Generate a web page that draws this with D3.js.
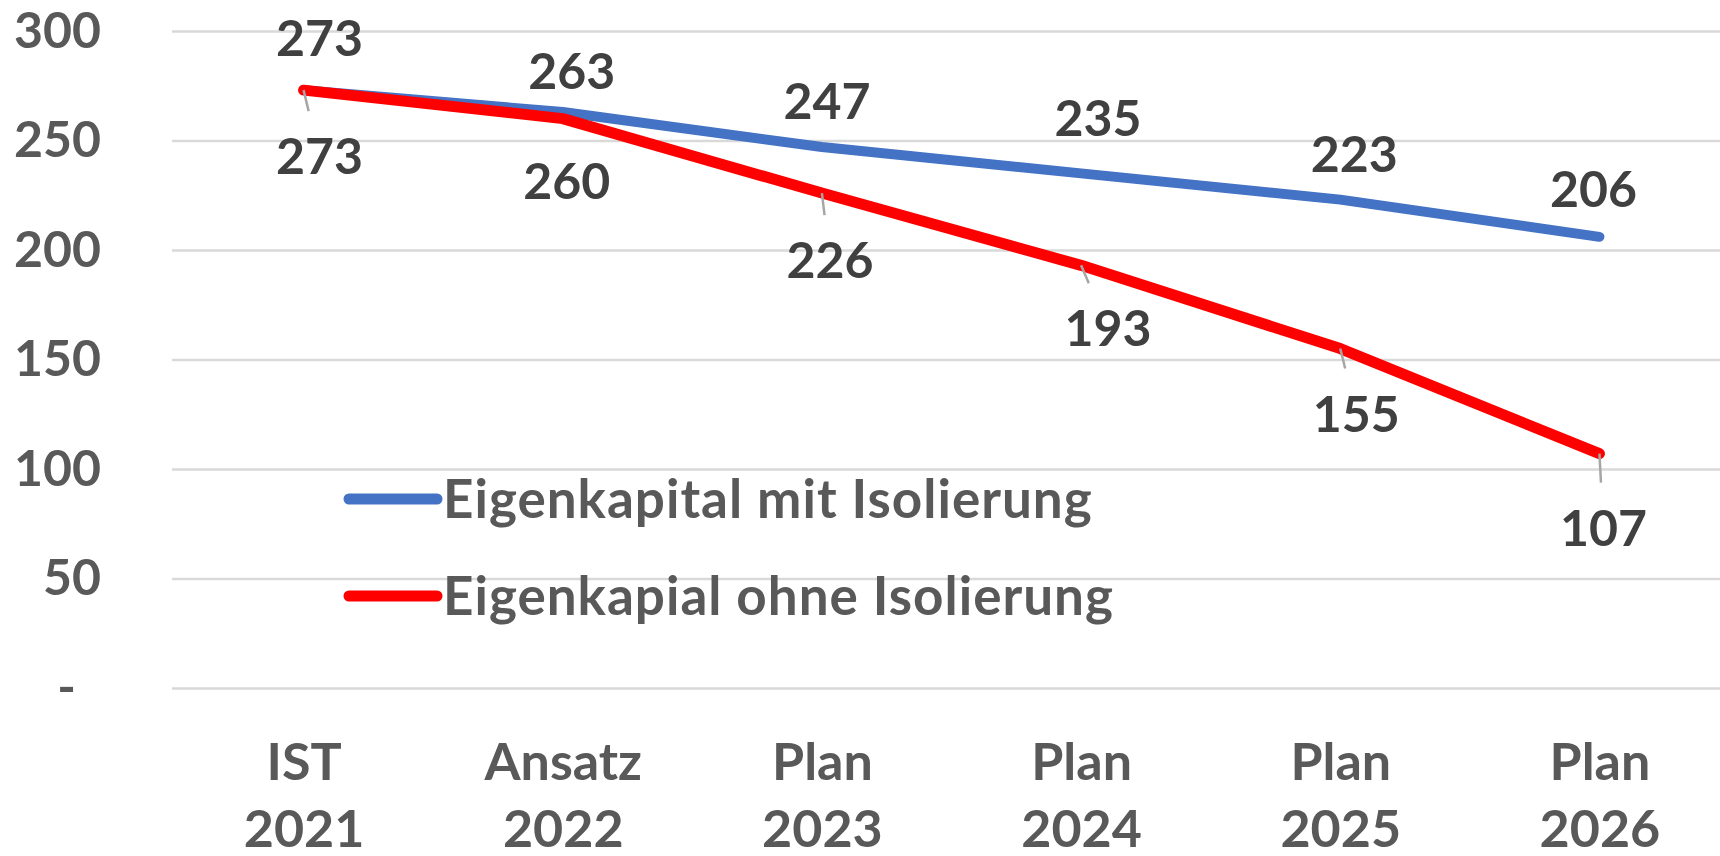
<!DOCTYPE html>
<html>
<head>
<meta charset="utf-8">
<script src="https://cdn.jsdelivr.net/npm/d3@7"></script>
<style>
  html, body { margin: 0; padding: 0; background: #fff; }
  svg { display: block; font-family: Lato, "Open Sans", sans-serif; font-weight: 700; }
</style>
</head>
<body>
<svg id="chart" width="1720" height="856"></svg>
<script>
// ---- data ----
const categories = ["IST\n2021", "Ansatz\n2022", "Plan\n2023", "Plan\n2024", "Plan\n2025", "Plan\n2026"];
const seriesNames = ["Eigenkapital mit Isolierung", "Eigenkapial ohne Isolierung"];
const mitIsolierung = [273, 263, 247, 235, 223, 206];
const ohneIsolierung = [273, 260, 226, 193, 155, 107];
const yTicks = [0, 50, 100, 150, 200, 250, 300];

// ---- label placement (manual Excel label offsets, px) ----
const blueLabelDx = [16, 9, 5, 17, 14, -6];
const blueLabelDy = [-52, -41, -46, -55, -46, -48];
const redLabelDx = [16, 4, 8, 27, 16, 4];
const redLabelDy = [66, 62, 67, 63, 65, 74];
const redLeader = [true, false, true, true, true, true];

const colors = { blue: "#4472C4", red: "#FF0000", grid: "#d9d9d9", axis: "#595959", label: "#404040", leader: "#a6a6a6" };
const fontSize = 50;

const svg = d3.select("#chart");
const W = 1720, H = 856;
const plotLeft = 172, plotTop = 31, plotBottom = 688;

const x = d3.scalePoint().domain(categories).range([174, 1729]).padding(0.5);
const y = d3.scaleLinear().domain([0, 300]).range([plotBottom, plotTop]);

// y axis + gridlines
const yAxis = d3.axisLeft(y).tickValues(yTicks)
  .tickSize(-(W - plotLeft)).tickPadding(71)
  .tickFormat(d => d === 0 ? "-" : d);
const gy = svg.append("g").attr("transform", `translate(${plotLeft},0)`).call(yAxis);
gy.select(".domain").remove();
gy.selectAll(".tick line").attr("stroke", colors.grid).attr("stroke-width", 2.5);
gy.selectAll(".tick text").attr("fill", colors.axis).attr("font-size", fontSize)
  .attr("font-family", "Lato, sans-serif").attr("font-weight", 700);
gy.selectAll(".tick").filter(d => d === 0).select("text").attr("x", -96);

// x axis
const xAxis = d3.axisBottom(x).tickSize(0).tickFormat(() => "");
const gx = svg.append("g").attr("transform", `translate(0,${plotBottom})`).call(xAxis);
gx.select(".domain").remove();
gx.selectAll(".tick text").each(function(d) {
  const parts = d.split("\n");
  const t = d3.select(this).attr("fill", colors.axis).attr("font-size", fontSize + 2)
    .attr("font-family", "Lato, sans-serif").attr("font-weight", 700).attr("y", 0).attr("dy", null);
  parts.forEach((p, i) => {
    t.append("tspan").attr("x", 0).attr("y", 92 + i * 67).text(p);
  });
});

// lines
const line = d3.line().x((d, i) => x(categories[i])).y(d => y(d));
svg.append("path").datum(mitIsolierung).attr("d", line)
  .attr("fill", "none").attr("stroke", colors.blue).attr("stroke-width", 10)
  .attr("stroke-linecap", "round").attr("stroke-linejoin", "round");
svg.append("path").datum(ohneIsolierung).attr("d", line)
  .attr("fill", "none").attr("stroke", colors.red).attr("stroke-width", 11)
  .attr("stroke-linecap", "round").attr("stroke-linejoin", "round");

// leader lines for red labels
svg.append("g").selectAll("line").data(ohneIsolierung.map((v, i) => ({ v, i })).filter(d => redLeader[d.i]))
  .join("line")
  .attr("x1", d => x(categories[d.i]))
  .attr("y1", d => y(d.v))
  .attr("x2", d => {
    const px = x(categories[d.i]), py = y(d.v);
    const lx = px + redLabelDx[d.i], ly = py + redLabelDy[d.i];
    const ty = ly - 45;
    return px + (lx - px) * (ty - py) / (ly - py);
  })
  .attr("y2", d => y(d.v) + redLabelDy[d.i] - 45)
  .attr("stroke", colors.leader).attr("stroke-width", 2.5);

// data labels
function labels(data, dx, dy) {
  svg.append("g").selectAll("text").data(data).join("text")
    .attr("x", (d, i) => x(categories[i]) + dx[i])
    .attr("y", (d, i) => y(d) + dy[i])
    .attr("dy", "0.36em")
    .attr("text-anchor", "middle")
    .attr("fill", colors.label)
    .attr("font-size", fontSize)
    .text(d => d);
}
labels(mitIsolierung, blueLabelDx, blueLabelDy);
labels(ohneIsolierung, redLabelDx, redLabelDy);

// legend
const legend = svg.append("g");
const legendItems = [
  { name: seriesNames[0], color: colors.blue, y: 499 },
  { name: seriesNames[1], color: colors.red, y: 596 }
];
legendItems.forEach(it => {
  legend.append("line").attr("x1", 349).attr("x2", 437).attr("y1", it.y).attr("y2", it.y)
    .attr("stroke", it.color).attr("stroke-width", 11).attr("stroke-linecap", "round");
  legend.append("text").attr("x", 443).attr("y", it.y).attr("dy", "0.36em")
    .attr("fill", colors.axis).attr("font-size", 53).attr("letter-spacing", 1).text(it.name);
});
</script>
</body>
</html>
